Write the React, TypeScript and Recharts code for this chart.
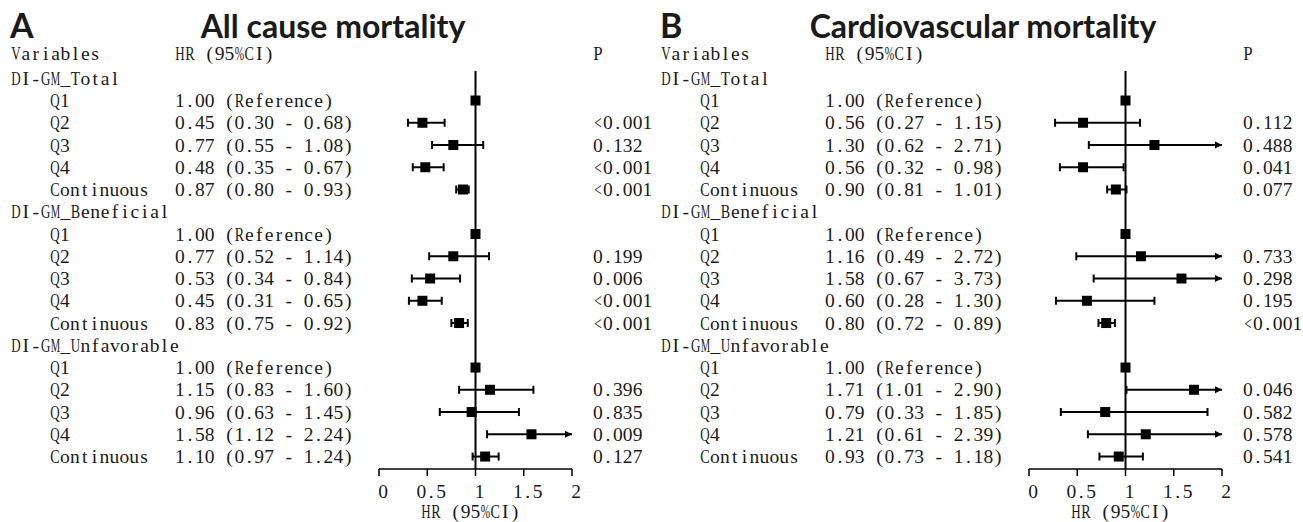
import React from 'react';
import { ComposedChart, XAxis, YAxis, Scatter, ReferenceLine, ReferenceDot } from 'recharts';

// ---------- data ----------
const groups = ['DI-GM_Total', 'DI-GM_Beneficial', 'DI-GM_Unfavorable'];
const levels = ['Q1', 'Q2', 'Q3', 'Q4', 'Continuous'];
const headerLabels = ['Variables', 'HR (95%CI)', 'P'];
const xTicks = [0, 0.5, 1, 1.5, 2];

// A: All cause mortality
const acHR = [[1.0, 0.45, 0.77, 0.48, 0.87], [1.0, 0.77, 0.53, 0.45, 0.83], [1.0, 1.15, 0.96, 1.58, 1.1]];
const acLo = [[null, 0.3, 0.55, 0.35, 0.8], [null, 0.52, 0.34, 0.31, 0.75], [null, 0.83, 0.63, 1.12, 0.97]];
const acHi = [[null, 0.68, 1.08, 0.67, 0.93], [null, 1.14, 0.84, 0.65, 0.92], [null, 1.6, 1.45, 2.24, 1.24]];
const acP = [['', '<0.001', '0.132', '<0.001', '<0.001'], ['', '0.199', '0.006', '<0.001', '<0.001'], ['', '0.396', '0.835', '0.009', '0.127']];

// B: Cardiovascular mortality
const cvHR = [[1.0, 0.56, 1.3, 0.56, 0.9], [1.0, 1.16, 1.58, 0.6, 0.8], [1.0, 1.71, 0.79, 1.21, 0.93]];
const cvLo = [[null, 0.27, 0.62, 0.32, 0.81], [null, 0.49, 0.67, 0.28, 0.72], [null, 1.01, 0.33, 0.61, 0.73]];
const cvHi = [[null, 1.15, 2.71, 0.98, 1.01], [null, 2.72, 3.73, 1.3, 0.89], [null, 2.9, 1.85, 2.39, 1.18]];
const cvP = [['', '0.112', '0.488', '0.041', '0.077'], ['', '0.733', '0.298', '0.195', '<0.001'], ['', '0.046', '0.582', '0.578', '0.541']];

// ---------- styling ----------
const SERIF = "'Liberation Serif', 'DejaVu Serif', serif";
const FONT_SIZE = 19.5;
const CW = 9.9; // monospaced cell width in px
const TEXT_COLOR = '#1a1a1a';
const X_MAX = 2;

type Row = {
  row: number;
  kind: 'header' | 'group' | 'level';
  label: string;
  hr?: number;
  lo?: number | null;
  hi?: number | null;
  p?: string;
};

function buildRows(hr: number[][], lo: (number | null)[][], hi: (number | null)[][], p: string[][]): Row[] {
  const rows: Row[] = [{ row: 0, kind: 'header', label: headerLabels[0] }];
  let r = 1;
  groups.forEach((g, gi) => {
    rows.push({ row: r++, kind: 'group', label: g });
    levels.forEach((lv, li) => {
      rows.push({ row: r++, kind: 'level', label: lv, hr: hr[gi][li], lo: lo[gi][li], hi: hi[gi][li], p: p[gi][li] });
    });
  });
  return rows;
}

// Monospaced serif text: each glyph centred in a fixed-width cell, wide glyphs condensed
function squeezeOf(c: string): number | null {
  if (/[A-HJ-Z%]/.test(c)) return 9.4;
  if (c === '<') return 7.5;
  if (/[mw]/.test(c)) return 9.6;
  return null;
}

function Mono({ x, y, children, anchor = 'start' }: { x: number; y: number; children: React.ReactNode; anchor?: string }) {
  const s = String(children);
  const chars = Array.from(s);
  const total = chars.length * CW;
  const start = anchor === 'middle' ? -total / 2 : anchor === 'end' ? -total : 0;
  return (
    <text
      y={y + FONT_SIZE * 0.34}
      fontFamily={SERIF}
      fontSize={FONT_SIZE}
      textAnchor="middle"
      fill={TEXT_COLOR}
      style={{ whiteSpace: 'pre' }}
    >
      {chars.map((c, i) => {
        const sq = squeezeOf(c);
        const extra = sq ? { textLength: sq, lengthAdjust: 'spacingAndGlyphs' } : {};
        return (
          <tspan key={i} x={(x + start + i * CW + CW / 2).toFixed(2)} {...(extra as any)}>
            {c}
          </tspan>
        );
      })}
    </text>
  );
}

const COL_GROUP = 11;
const COL_LEVEL = 50;
const COL_HR = 175;
const COL_P = 593;

function fmtHR(r: Row) {
  if (r.hr == null) return '';
  if (r.lo == null) return `${r.hr.toFixed(2)} (Reference)`;
  return `${r.hr.toFixed(2)} (${r.lo.toFixed(2)} - ${(r.hi as number).toFixed(2)})`;
}

function makeRowTick(rows: Row[]) {
  return (props: any) => {
    const { y, payload } = props;
    const r = rows.find((d) => d.row === payload.value);
    if (!r) return null;
    if (r.kind === 'header') {
      return (
        <g>
          <Mono x={COL_GROUP} y={y - 3}>{headerLabels[0]}</Mono>
          <Mono x={COL_HR} y={y - 3}>{headerLabels[1]}</Mono>
          <Mono x={COL_P} y={y - 3}>{headerLabels[2]}</Mono>
        </g>
      );
    }
    if (r.kind === 'group') {
      return <Mono x={COL_GROUP} y={y}>{r.label}</Mono>;
    }
    return (
      <g>
        <Mono x={COL_LEVEL} y={y}>{r.label}</Mono>
        <Mono x={COL_HR} y={y}>{fmtHR(r)}</Mono>
        {r.p ? <Mono x={COL_P} y={y}>{r.p}</Mono> : null}
      </g>
    );
  };
}

const XTick = (props: any) => {
  const { x, y, payload } = props;
  return <Mono x={x + 4} y={y + 13} anchor="middle">{String(payload.value)}</Mono>;
};

const SquareShape = (props: any) => {
  const { cx, cy } = props;
  const s = 10;
  return <rect x={cx - s / 2} y={cy - s / 2} width={s} height={s} fill="#000" />;
};

const CapShape = (props: any) => {
  const { cx, cy } = props;
  return <line x1={cx} x2={cx} y1={cy - 4} y2={cy + 4} stroke="#000" strokeWidth={2} />;
};

const ArrowShape = (props: any) => {
  const { cx, cy } = props;
  return <path d={`M${cx},${cy} L${cx - 7},${cy - 3.5} L${cx - 7},${cy + 3.5} Z`} fill="#000" />;
};

const Y_MAX = 18.56;

function Forest({ rows, width }: { rows: Row[]; width: number }) {
  const levelRows = rows.filter((r) => r.kind === 'level');
  const ciRows = levelRows.filter((r) => r.lo != null);
  const yTicks = rows.map((r) => r.row);
  const RowTick = makeRowTick(rows);
  return (
    <ComposedChart
      width={width}
      height={522}
      margin={{ top: 56, right: width - 572, bottom: 23, left: 378 }}
      style={{ overflow: 'visible' }}
    >
      <XAxis
        type="number"
        dataKey="hr"
        domain={[0, X_MAX]}
        ticks={xTicks}
        allowDataOverflow
        height={30}
        interval={0}
        tickSize={7}
        axisLine={{ stroke: '#000', strokeWidth: 1.5 }}
        tickLine={{ stroke: '#000', strokeWidth: 1.5 }}
        tick={<XTick />}
        label={(p: any) => {
          const vb = p.viewBox || {};
          return <Mono x={vb.x + vb.width / 2 - 5} y={vb.y + 42} anchor="middle">HR (95%CI)</Mono>;
        }}
      />
      <YAxis
        type="number"
        dataKey="row"
        domain={[0, Y_MAX]}
        reversed
        allowDataOverflow
        ticks={yTicks}
        interval={0}
        width={1}
        axisLine={false}
        tickLine={false}
        tick={<RowTick />}
      />
      <ReferenceLine
        segment={[{ x: 1, y: 0.67 }, { x: 1, y: Y_MAX }]}
        stroke="#000"
        strokeWidth={2}
        ifOverflow="visible"
      />
      {ciRows.map((r) => (
        <ReferenceLine
          key={`ci-${r.row}`}
          segment={[{ x: r.lo as number, y: r.row }, { x: Math.min(r.hi as number, X_MAX), y: r.row }]}
          stroke="#000"
          strokeWidth={2}
          ifOverflow="visible"
        />
      ))}
      {ciRows.map((r) => (
        <ReferenceDot key={`lo-${r.row}`} x={r.lo as number} y={r.row} r={4} shape={CapShape} ifOverflow="visible" />
      ))}
      {ciRows.map((r) =>
        (r.hi as number) <= X_MAX ? (
          <ReferenceDot key={`hi-${r.row}`} x={r.hi as number} y={r.row} r={4} shape={CapShape} ifOverflow="visible" />
        ) : (
          <ReferenceDot key={`ar-${r.row}`} x={X_MAX} y={r.row} r={4} shape={ArrowShape} ifOverflow="visible" />
        )
      )}
      <Scatter data={levelRows} dataKey="row" shape={SquareShape} isAnimationActive={false} />
    </ComposedChart>
  );
}

const acRows = buildRows(acHR, acLo, acHi, acP);
const cvRows = buildRows(cvHR, cvLo, cvHi, cvP);

const TITLE_FONT = "Lato, 'Open Sans', sans-serif";

export default function App() {
  return (
    <div style={{ position: 'absolute', left: 0, top: 0, width: 1303, height: 522, background: '#fff', overflow: 'hidden' }}>
      <div style={{ position: 'absolute', left: 0, top: 0 }}>
        <Forest rows={acRows} width={660} />
      </div>
      <div style={{ position: 'absolute', left: 650, top: 0 }}>
        <Forest rows={cvRows} width={653} />
      </div>
      <svg width={1303} height={50} style={{ position: 'absolute', left: 0, top: 0 }}>
        <text x={10} y={38} fontFamily={TITLE_FONT} fontWeight={700} fontSize={34} fill={TEXT_COLOR}>A</text>
        <text x={333} y={38} fontFamily={TITLE_FONT} fontWeight={700} fontSize={32} textAnchor="middle" fill={TEXT_COLOR}>All cause mortality</text>
        <text x={660} y={38} fontFamily={TITLE_FONT} fontWeight={700} fontSize={34} fill={TEXT_COLOR}>B</text>
        <text x={983} y={38} fontFamily={TITLE_FONT} fontWeight={700} fontSize={32} textAnchor="middle" fill={TEXT_COLOR}>Cardiovascular mortality</text>
      </svg>
    </div>
  );
}
